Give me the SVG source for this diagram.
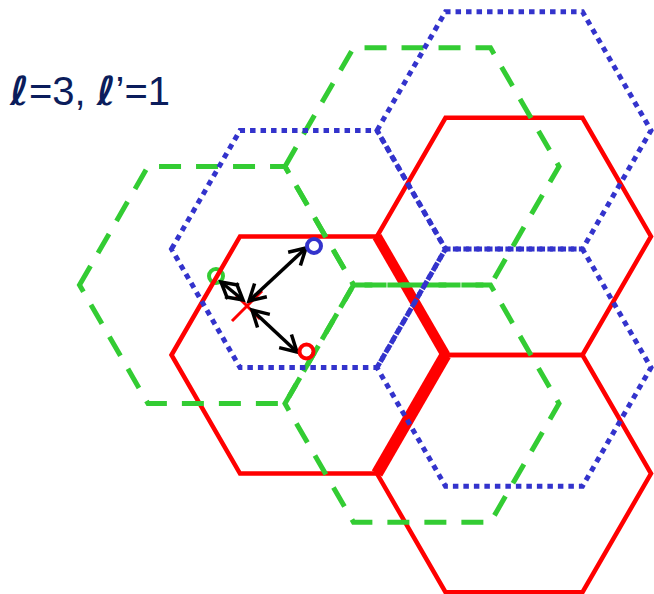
<svg xmlns="http://www.w3.org/2000/svg" width="654" height="594" viewBox="0 0 654 594">
<style>
.red{fill:none;stroke:#ff0000;stroke-width:4.5;stroke-linejoin:miter}
.green{fill:none;stroke:#33cc33;stroke-width:5;stroke-dasharray:22 15}
.blue{fill:none;stroke:#3333cc;stroke-width:5;stroke-dasharray:5.5 5}
.arr{fill:none;stroke:#000;stroke-width:3.5;marker-start:url(#ah);marker-end:url(#ah)}
.lbl{font-family:"Liberation Sans",Arial,sans-serif;font-size:40px;fill:#0b1d5c}
</style>
<defs>
<marker id="ah" markerUnits="userSpaceOnUse" orient="auto-start-reverse" viewBox="-20 -12 24 24" markerWidth="24" markerHeight="24" refX="0" refY="0" overflow="visible">
<path d="M-16,-9 L0,0 L-16,9" fill="none" stroke="#000" stroke-width="3.5"/>
</marker>
</defs>
<rect width="654" height="594" fill="#fff"/>
<text class="lbl" x="10" y="105"><tspan font-family="DejaVu Sans" font-weight="bold" font-style="italic">ℓ</tspan>=3, <tspan font-family="DejaVu Sans" font-weight="bold" font-style="italic">ℓ</tspan>’=1</text>
<g id="green-circle"><circle cx="216" cy="276" r="7" fill="none" stroke="#33cc33" stroke-width="4"/></g>
<g id="red-hexes">
<polygon id="red-hex-1" class="red" points="171.5,355 240,236.4 377,236.4 445.5,355 377,473.6 240,473.6"/>
<polygon id="red-hex-2" class="red" points="377,236.4 445.5,117.8 582.5,117.8 651,236.4 582.5,355 445.5,355"/>
<polygon id="red-hex-3" class="red" points="377,473.6 445.5,355 582.5,355 651,473.6 582.5,592.2 445.5,592.2"/>
<path id="red-thick-1" d="M377,236.4 L445.5,355" fill="none" stroke="#ff0000" stroke-width="10"/>
<path id="red-thick-2" d="M445.5,355 L377,473.6" fill="none" stroke="#ff0000" stroke-width="12"/>
</g>
<g id="green-hexes">
<polygon id="green-hex-1" class="green" points="79.5,285 148,166.4 285,166.4 353.5,285 285,403.6 148,403.6"/>
<polygon id="green-hex-2" class="green" points="285,166.4 353.5,47.8 490.5,47.8 559,166.4 490.5,285 353.5,285"/>
<polygon id="green-hex-3" class="green" points="285,403.6 353.5,285 490.5,285 559,403.6 490.5,522.2 353.5,522.2"/>
</g>
<g id="blue-hexes">
<polygon id="blue-hex-1" class="blue" points="171.5,249 240,130.4 377,130.4 445.5,249 377,367.6 240,367.6"/>
<polygon id="blue-hex-2" class="blue" points="377,130.4 445.5,11.8 582.5,11.8 651,130.4 582.5,249 445.5,249"/>
<polygon id="blue-hex-3" class="blue" points="377,367.6 445.5,249 582.5,249 651,367.6 582.5,486.2 445.5,486.2"/>
</g>
<g id="red-x">
<path d="M232,321 L262,291 M236,295 L260,319" fill="none" stroke="#ff0000" stroke-width="3"/>
</g>
<g id="connectors">
<line class="arr" x1="249" y1="301" x2="306" y2="248"/>
<line class="arr" x1="252" y1="310" x2="297" y2="352"/>
<line class="arr" x1="243" y1="300" x2="221" y2="282"/>
</g>
<g id="blue-circle"><circle cx="314" cy="246" r="7" fill="none" stroke="#3333cc" stroke-width="4"/></g>
<g id="red-circle"><circle cx="306.5" cy="351.5" r="7" fill="none" stroke="#ff0000" stroke-width="4"/></g>
</svg>
